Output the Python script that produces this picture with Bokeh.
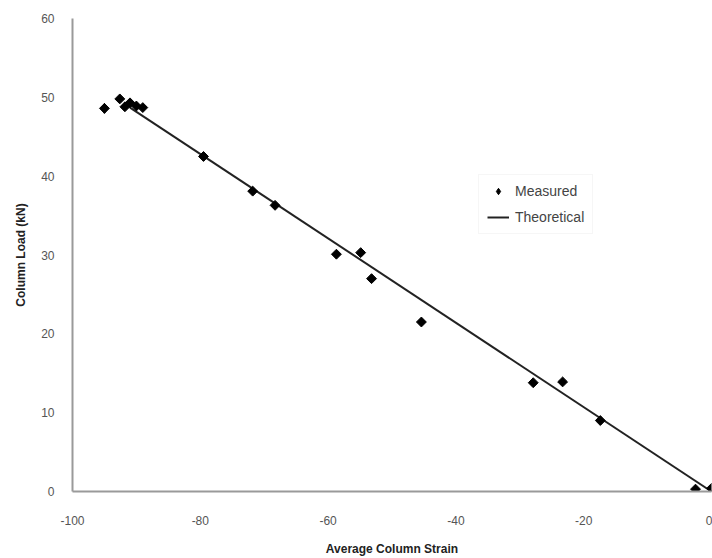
import math
from bokeh.plotting import figure
from bokeh.models import Range1d, Legend, LegendItem, FixedTicker
from bokeh.embed import file_html
from bokeh.resources import INLINE

measured_strain = [-95.0, -92.6, -91.8, -91.0, -90.0, -89.0, -79.5, -71.8, -68.3,
                   -58.7, -54.9, -53.2, -45.4, -27.9, -23.3, -17.4, -2.5, 0.0]
measured_load = [48.6, 49.8, 48.8, 49.3, 48.9, 48.7, 42.5, 38.1, 36.3,
                 30.1, 30.3, 27.0, 21.5, 13.8, 13.9, 9.0, 0.3, 0.4]
theory_strain = [-91.0, 0.0]
theory_load = [48.7, 0.0]
x_ticks = [-100, -80, -60, -40, -20, 0]
x_labels = ["-100", "-80", "-60", "-40", "-20", "0"]
y_ticks = [0, 10, 20, 30, 40, 50, 60]

p = figure(width=712, height=558, output_backend="svg", toolbar_location=None,
           x_range=Range1d(-100, 0), y_range=Range1d(0, 60),
           min_border_left=72, min_border_right=1, min_border_top=18, min_border_bottom=66)
p.outline_line_color = None
p.grid.visible = False
p.background_fill_color = "white"
p.border_fill_color = "white"

font = "Liberation Sans"
for ax in (p.xaxis[0], p.yaxis[0]):
    ax.axis_line_color = "#9a9a9a"
    ax.axis_line_width = 2
    ax.major_tick_line_color = None
    ax.minor_tick_line_color = None
    ax.major_label_text_font = font
    ax.major_label_text_font_size = "12px"
    ax.major_label_text_color = "#555555"
    ax.axis_label_text_font = font
    ax.axis_label_text_font_size = "12px"
    ax.axis_label_text_font_style = "bold"
    ax.axis_label_text_color = "#222222"

p.xaxis.ticker = FixedTicker(ticks=x_ticks)
p.yaxis.ticker = FixedTicker(ticks=y_ticks)
p.xaxis.major_label_overrides = {t: l for t, l in zip(x_ticks, x_labels)}
p.xaxis.axis_label = "Average Column Strain"
p.yaxis.axis_label = "Column Load (kN)"
p.xaxis.major_label_standoff = 18
p.yaxis.major_label_standoff = 12
p.xaxis.axis_label_standoff = 14
p.yaxis.axis_label_standoff = 10

ln = p.line(theory_strain, theory_load, line_color="#222222", line_width=2)
# legend glyph: a diamond drawn under the first measured point (hidden by it)
sc_leg = p.scatter(measured_strain[:1], measured_load[:1], marker="diamond", size=10,
                   fill_color="black", line_color="black")
sc = p.scatter(measured_strain, measured_load, marker="square", angle=math.pi / 4,
               size=7, fill_color="black", line_color="black")

legend = Legend(items=[LegendItem(label="Measured", renderers=[sc_leg]),
                       LegendItem(label="Theoretical", renderers=[ln])],
                location=(406, 257), border_line_color="#eeeeee",
                label_text_font=font, label_text_font_size="14px",
                label_text_color="#444444", glyph_width=22, glyph_height=16,
                spacing=10, padding=8, label_standoff=6, background_fill_alpha=1,
                margin=0)
p.add_layout(legend, "center")

open("out.html", "w").write(file_html(p, INLINE))
